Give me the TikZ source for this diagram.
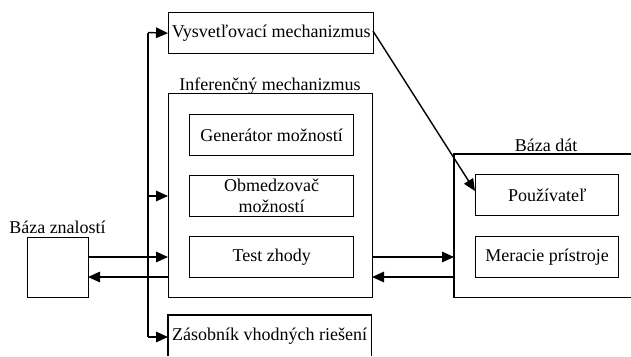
\documentclass[tikz,border=0pt]{standalone}
\usepackage{fontspec}
\setmainfont{Liberation Serif}
\usetikzlibrary{arrows.meta}
\tikzset{
  line/.style={line width=1.4pt},
  arr/.style={line width=1.4pt,-{Triangle[length=12pt,width=10.5pt]}},
  box/.style={draw,line width=1.4pt,anchor=north west,inner sep=0pt,align=center,
    font=\fontsize{18}{21}\selectfont},
  openbox/.style={anchor=north west,inner sep=0pt,align=center,
    font=\fontsize{18}{21}\selectfont},
  lab/.style={anchor=base,inner sep=0pt,font=\fontsize{18}{21}\selectfont}
}
\begin{document}
\begin{tikzpicture}[x=1pt,y=-1pt]
\useasboundingbox (0,0) rectangle (631,356);
% boxes
\node[box,minimum width=205pt,minimum height=41pt] (vys) at (168,12) {Vysvetľovací mechanizmus};
\node[box,minimum width=204pt,minimum height=204pt] (inf) at (168,93) {};
\node[lab] (inflab) at (270,90) {Inferenčný mechanizmus};
\node[box,minimum width=164pt,minimum height=41pt] (gen) at (189,114) {Generátor možností};
\node[box,minimum width=164pt,minimum height=41pt] (obm) at (189,175) {Obmedzovač\\možností};
\node[box,minimum width=164pt,minimum height=41pt] (test) at (189,236) {Test zhody};
\node[box,minimum width=61pt,minimum height=60pt] (bz) at (27,237) {};
\node[lab] (bzlab) at (57.5,233) {Báza znalostí};
\node[openbox,minimum width=203pt,minimum height=41pt] (zas) at (168,315) {Zásobník vhodných riešení};
\draw[line] (zas.south west) -- (zas.north west) -- (zas.north east) -- (zas.south east);
\node[openbox,minimum width=177pt,minimum height=143pt] (dat) at (454,154) {};
\draw[line] (dat.north east) -- (dat.north west) -- (dat.south west) -- (dat.south east);
\node[lab] (datlab) at (546,151) {Báza dát};
\node[box,minimum width=143pt,minimum height=41pt] (pou) at (475,174) {Používateľ};
\node[box,minimum width=143pt,minimum height=41pt] (mer) at (475,236) {Meracie prístroje};
% bus
\coordinate (bt) at (148,32.5);
\coordinate (bm) at (148,196);
\coordinate (bb) at (148,337);
\draw[line] (bt) -- (bb);
\draw[arr] (bt) -- (vys.west);
\draw[arr] (bm) -- (bm -| inf.west);
\draw[arr] (bb) -- (bb -| zas.west);
% knowledge base arrows
\coordinate (k1) at (88,257);
\coordinate (k2) at (88,277);
\draw[arr] (k1) -- (k1 -| inf.west);
\draw[arr] (k2 -| inf.west) -- (k2);
% database arrows
\coordinate (d1) at (372,257);
\coordinate (d2) at (372,277);
\draw[arr] (d1) -- (d1 -| dat.west);
\draw[arr] (d2 -| dat.west) -- (d2);
% diagonal
\coordinate (ds) at (373,31);
\draw[arr] (ds) -- (pou.west |- 0,191);
\end{tikzpicture}
\end{document}
